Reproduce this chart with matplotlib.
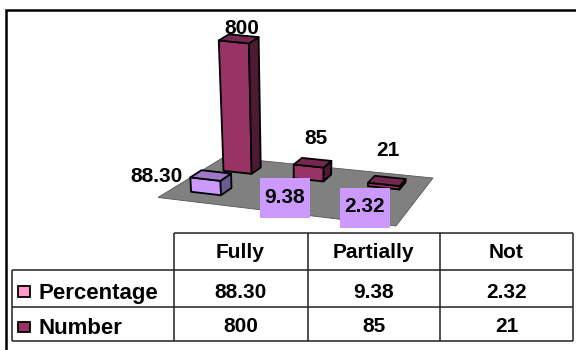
import numpy as np
from matplotlib import pyplot as plt
from matplotlib.patches import Polygon, Rectangle

categories = ["Fully", "Partially", "Not"]
series_names = ["Percentage", "Number"]
percentage = [88.30, 9.38, 2.32]
number = [800, 85, 21]
percentage_labels = ["88.30", "9.38", "2.32"]
number_labels = ["800", "85", "21"]

plt.rcParams["font.family"] = ["Liberation Sans", "DejaVu Sans"]

# floor corners in pixels: front-left, front-right, back-right, back-left
FLOOR = np.array([[158, 197.5], [396, 226], [433, 178], [224, 157]], dtype=float)
PX_PER_UNIT = 0.163
BAR_W = 0.137
BAR_D = 0.163
SLOT_U = [0.162, 0.498, 0.834]
ROW_V = [0.258, 0.758]
LEAN = 0.00055
LEAN_X0 = 290


def floor_matrix(pts):
    src = [(0, 0), (1, 0), (1, 1), (0, 1)]
    a, b = [], []
    for (u, v), (x, y) in zip(src, pts):
        a.append([u, v, 1, 0, 0, 0, -u * x, -v * x])
        a.append([0, 0, 0, u, v, 1, -u * y, -v * y])
        b += [x, y]
    h = np.linalg.solve(np.array(a), np.array(b))
    return np.append(h, 1).reshape(3, 3)


H = floor_matrix(FLOOR)


def project(u, v, value=0.0):
    p = H @ np.array([u, v, 1.0])
    x, y = p[0] / p[2], p[1] / p[2]
    # verticals spread apart with height
    rise = value * PX_PER_UNIT
    return np.array([x + rise * (x - LEAN_X0) * LEAN, y - rise])


def draw_bar(ax, cat_idx, row, value, colors):
    u0 = SLOT_U[cat_idx] - BAR_W / 2
    u1 = u0 + BAR_W
    v0 = ROW_V[row] - BAR_D / 2
    v1 = v0 + BAR_D
    a, b, c = project(u0, v0), project(u1, v0), project(u1, v1)
    at, bt = project(u0, v0, value), project(u1, v0, value)
    ct, dt = project(u1, v1, value), project(u0, v1, value)
    front, side, top = colors
    style = dict(edgecolor="black", linewidth=1.3, joinstyle="round")
    ax.add_patch(Polygon([a, b, bt, at], facecolor=front, **style))
    ax.add_patch(Polygon([b, c, ct, bt], facecolor=side, **style))
    ax.add_patch(Polygon([at, bt, ct, dt], facecolor=top, **style))


fig = plt.figure(figsize=(5.76, 3.5), dpi=100)
ax = fig.add_axes([0, 0, 1, 1])
ax.set_xlim(0, 576)
ax.set_ylim(350, 0)
ax.axis("off")

# outer frame, only top and left are visible
ax.plot([5.5, 5.5, 576], [350, 9.5, 9.5], color="black", lw=1.8, solid_joinstyle="miter")

ax.add_patch(Polygon(FLOOR, facecolor="#808080", edgecolor="#555555", linewidth=0.6))

PCT_COLORS = ("#cc99ff", "#6b5b95", "#9f78c8")
NUM_COLORS = ("#993366", "#4d1a33", "#742750")

for i in range(3):
    draw_bar(ax, i, 1, number[i], NUM_COLORS)
    draw_bar(ax, i, 0, percentage[i], PCT_COLORS)

TXT = dict(fontsize=15, fontweight="bold", color="black", ha="center", va="center_baseline")

# value labels
ax.text(241.7, 26.7, number_labels[0], **TXT)
ax.text(315.7, 136.7, number_labels[1], **TXT)
ax.text(388.3, 149, number_labels[2], **TXT)
ax.text(156.7, 174, percentage_labels[0], **TXT)
for cx, cy, ty, label in [(285, 197.7, 195.7, percentage_labels[1]), (365, 207.7, 205, percentage_labels[2])]:
    ax.add_patch(Rectangle((cx - 25, cy - 20), 50, 40, facecolor="#cc99ff", edgecolor="none", zorder=3))
    ax.text(cx, ty, label, zorder=4, **TXT)

# data table underneath
COL_X = [12, 173.5, 307.5, 440, 573]
ROW_Y = [233, 270, 307, 341]
LINE = dict(color="#222222", lw=1.1, solid_capstyle="butt")
ax.plot([COL_X[1], COL_X[4]], [ROW_Y[0]] * 2, **LINE)
for y in ROW_Y[1:]:
    ax.plot([COL_X[0], COL_X[4]], [y, y], **LINE)
for x in COL_X[1:]:
    ax.plot([x, x], [ROW_Y[0], ROW_Y[3]], **LINE)
ax.plot([COL_X[0]] * 2, [ROW_Y[1], ROW_Y[3]], **LINE)

for j, cat in enumerate(categories):
    cx = (COL_X[j + 1] + COL_X[j + 2]) / 2
    ax.text(cx, (ROW_Y[0] + ROW_Y[1]) / 2 - 1, cat, **TXT)
    ax.text(cx, (ROW_Y[1] + ROW_Y[2]) / 2 + 1.5, percentage_labels[j], **TXT)
    ax.text(cx, (ROW_Y[2] + ROW_Y[3]) / 2 + 1, number_labels[j], **TXT)

swatch_colors = ["#ff99cc", "#993366"]
for k, name in enumerate(series_names):
    cy = (ROW_Y[k + 1] + ROW_Y[k + 2]) / 2
    ax.add_patch(Rectangle((18, cy - 2.5), 11.5, 10.5, facecolor=swatch_colors[k], edgecolor="black", linewidth=1.3))
    ax.text(38, cy + 2, name, fontsize=16, fontweight="bold", color="black", ha="left", va="center_baseline")

fig.savefig("out.png", dpi=100)
